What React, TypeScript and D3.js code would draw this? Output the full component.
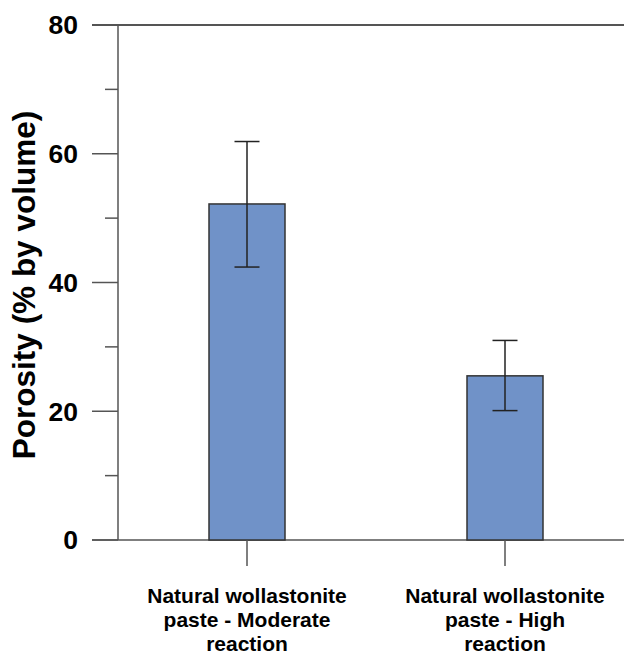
import React from "react";
import * as d3 from "d3";

const categories = [
  ["Natural wollastonite", "paste - Moderate", "reaction"],
  ["Natural wollastonite", "paste - High", "reaction"],
];
const values = [52.2, 25.5];
const errLow = [42.4, 20.1];
const errHigh = [61.9, 31.0];
const majorTicks = [0, 20, 40, 60, 80];
const minorTicks = [10, 30, 50, 70];

export default function App() {
  const W = 624, H = 654;
  const y = d3.scaleLinear().domain([0, 80]).range([540, 25]);
  const x = d3.scaleBand<number>().domain([0, 1]).range([118, 634]);
  const barW = 76;
  const axisColor = "#555";
  const font = "'Liberation Sans', Arial, sans-serif";
  return (
    <svg width={W} height={H} style={{ position: "absolute", left: 0, top: 0 }}>
      <rect width={W} height={H} fill="#fff" />
      <line x1={92} x2={W} y1={y(80)} y2={y(80)} stroke={axisColor} strokeWidth={2} />
      <line x1={92} x2={W} y1={y(0)} y2={y(0)} stroke={axisColor} strokeWidth={1.5} />
      <line x1={118} x2={118} y1={y(80)} y2={y(0)} stroke={axisColor} strokeWidth={1.5} />
      {majorTicks.map((t) => (
        <g key={t}>
          <line x1={92} x2={118} y1={y(t)} y2={y(t)} stroke={axisColor} strokeWidth={1.5} />
          <text x={78} y={y(t)} dy="0.35em" textAnchor="end" fontFamily={font} fontWeight="bold" fontSize={26.5} fill="#000">
            {t}
          </text>
        </g>
      ))}
      {minorTicks.map((t) => (
        <line key={t} x1={105} x2={118} y1={y(t)} y2={y(t)} stroke={axisColor} strokeWidth={1.5} />
      ))}
      {values.map((v, i) => {
        const cx = x(i)! + x.bandwidth() / 2;
        return (
          <g key={i}>
            <rect x={cx - barW / 2} y={y(v)} width={barW} height={y(0) - y(v)} fill="#7092C8" stroke="#333" strokeWidth={1.5} />
            <line x1={cx} x2={cx} y1={y(errHigh[i])} y2={y(errLow[i])} stroke="#222" strokeWidth={1.5} />
            <line x1={cx - 12.5} x2={cx + 12.5} y1={y(errHigh[i])} y2={y(errHigh[i])} stroke="#222" strokeWidth={1.5} />
            <line x1={cx - 12.5} x2={cx + 12.5} y1={y(errLow[i])} y2={y(errLow[i])} stroke="#222" strokeWidth={1.5} />
            <line x1={cx} x2={cx} y1={y(0)} y2={y(0) + 26} stroke={axisColor} strokeWidth={1.5} />
            {categories[i].map((line, j) => (
              <text key={j} x={cx} y={602.5 + j * 24} textAnchor="middle" fontFamily={font} fontWeight="bold" fontSize={21} fill="#000">
                {line}
              </text>
            ))}
          </g>
        );
      })}
      <text
        transform={`translate(35, 285) rotate(-90)`}
        textAnchor="middle"
        fontFamily={font}
        fontWeight="bold"
        fontSize={31.5}
        fill="#000"
      >
        Porosity (% by volume)
      </text>
    </svg>
  );
}
